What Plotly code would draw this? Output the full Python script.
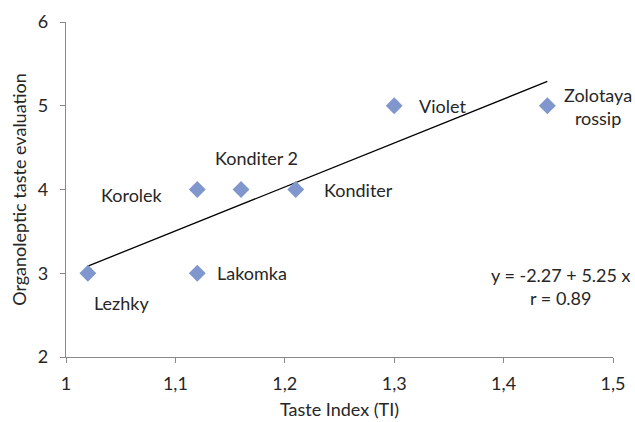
import plotly.graph_objects as go

# Data
varieties = ["Lezhky", "Lakomka", "Korolek", "Konditer 2", "Konditer", "Violet", "Zolotaya<br>rossip"]
taste_index = [1.02, 1.12, 1.12, 1.16, 1.21, 1.30, 1.44]
organoleptic = [3, 3, 4, 4, 4, 5, 5]
fit_intercept = -2.27
fit_slope = 5.25
fit_r = 0.89
x_ticks = [1.0, 1.1, 1.2, 1.3, 1.4, 1.5]
x_tick_labels = ["1", "1,1", "1,2", "1,3", "1,4", "1,5"]
y_ticks = [2, 3, 4, 5, 6]

FONT = "Lato, Carlito, Calibri, sans-serif"
FS = 18
TXT = "#262626"
AX = "#898989"

fit_x = [min(taste_index), max(taste_index)]
fit_y = [fit_intercept + fit_slope * v for v in fit_x]

fig = go.Figure()
fig.add_trace(go.Scatter(x=fit_x, y=fit_y, mode="lines",
                         line=dict(color="black", width=1.3), hoverinfo="skip"))
fig.add_trace(go.Scatter(x=taste_index, y=organoleptic, mode="markers",
                         marker=dict(symbol="diamond", size=13, color="#8097CE",
                                     line=dict(width=0))))

# label placement (pixel offsets from each point)
label_style = {
    "Lezhky": dict(xshift=34, yshift=-30, xanchor="center"),
    "Lakomka": dict(xshift=18, yshift=0, xanchor="left"),
    "Korolek": dict(xshift=-32, yshift=-5, xanchor="right"),
    "Konditer 2": dict(xshift=15, yshift=32, xanchor="center"),
    "Konditer": dict(xshift=26, yshift=0, xanchor="left"),
    "Violet": dict(xshift=23, yshift=0, xanchor="left"),
    "Zolotaya<br>rossip": dict(xshift=51, yshift=-1, xanchor="center"),
}
for name, xv, yv in zip(varieties, taste_index, organoleptic):
    st = label_style[name]
    fig.add_annotation(x=xv, y=yv, text=name, showarrow=False,
                       xanchor=st["xanchor"], yanchor="middle",
                       xshift=st["xshift"], yshift=st["yshift"],
                       font=dict(family=FONT, size=FS, color=TXT), align="center")

fig.add_annotation(x=1.4525, y=2.84, xref="x", yref="y",
                   text=f"y = {fit_intercept} + {fit_slope} x<br>r = {fit_r}",
                   showarrow=False, align="center", xanchor="center", yanchor="middle",
                   font=dict(family=FONT, size=FS, color=TXT))

fig.update_layout(
    width=635, height=422,
    margin=dict(l=66, r=22, t=22, b=65),
    paper_bgcolor="white", plot_bgcolor="white",
    showlegend=False,
    font=dict(family=FONT, size=FS, color=TXT),
)
fig.update_xaxes(range=[1.0, 1.5], tickvals=x_ticks, ticktext=x_tick_labels,
                 showgrid=False, zeroline=False, showline=True, linecolor=AX, linewidth=1.3,
                 ticks="outside", ticklen=5, tickcolor=AX, tickwidth=1.3, automargin=False,
                 tickfont=dict(family=FONT, size=FS, color=TXT), ticklabelstandoff=5,
                 title=dict(text="Taste Index (TI)", font=dict(family=FONT, size=FS, color=TXT), standoff=10))
fig.update_yaxes(range=[2, 6], tickvals=y_ticks,
                 showgrid=False, zeroline=False, showline=True, linecolor=AX, linewidth=1.3,
                 ticks="outside", ticklen=5, tickcolor=AX, tickwidth=1.3, automargin=False,
                 tickfont=dict(family=FONT, size=FS, color=TXT), ticklabelstandoff=8,
                 title=dict(text="Organoleptic taste evaluation", font=dict(family=FONT, size=FS, color=TXT), standoff=6))

# remove the default page margin so the 635x422 figure fills the window exactly
fig.write_html("out.html", config={"displayModeBar": False},
               post_script="document.body.style.margin='0';document.body.style.overflow='hidden';")
